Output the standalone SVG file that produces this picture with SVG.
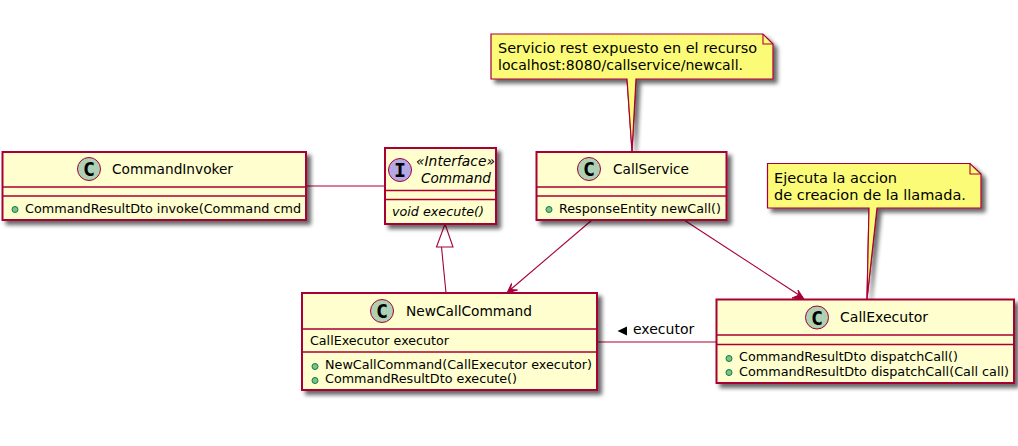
<svg xmlns="http://www.w3.org/2000/svg" width="1018" height="446" viewBox="0 0 1018 446">
<style>
text{font-family:"DejaVu Sans",sans-serif;fill:#000}
.name{font-size:14.500px}
.mem{font-size:12.500px}
.note{font-size:14.500px}
.box{fill:#FEFECE;stroke:#A80036;stroke-width:2;filter:url(#sh)}
.nt{fill:#FBFB77;stroke:#A80036;stroke-width:1.2;filter:url(#sh)}
.div{stroke:#A80036;stroke-width:1.5;fill:none}
.c{stroke:#A80036;stroke-width:1;fill:#ADD1B2}
.i{stroke:#A80036;stroke-width:1;fill:#B4A7E5}
.g{font-family:"DejaVu Sans Mono",monospace;font-size:20px;font-weight:bold;text-anchor:middle}
.dot{fill:#84BE84;stroke:#038048;stroke-width:1}
.ln{stroke:#A80036;stroke-width:1.1;fill:none}
.hd{stroke:#A80036;stroke-width:1;fill:#A80036}
.it{font-style:italic}
</style>
<defs>
<filter id="sh" x="-10%" y="-10%" width="125%" height="130%">
<feGaussianBlur in="SourceAlpha" stdDeviation="2"/>
<feOffset dx="4" dy="4"/>
<feComponentTransfer><feFuncA type="linear" slope="0.6"/></feComponentTransfer>
<feMerge><feMergeNode/><feMergeNode in="SourceGraphic"/></feMerge>
</filter>
</defs>
<g id="connectors">
<path class="ln" d="M306 186H385"/>
<path class="ln" d="M446 293L441.500 247"/>
<path class="ln" d="M445 224L436.500 247H453Z" style="fill:#fff"/>
<path class="ln" d="M592 220L510 290"/>
<path class="hd" d="M507 293L517.500 290L510.500 289.500L511.500 283.500Z"/>
<path class="ln" d="M684 220L799 295"/>
<path class="hd" d="M804 299L792 298L799 295L798 290Z"/>
<path class="ln" d="M597 342H716"/>
<path class="ln" d="M632 151L627 79M632 151L636 79"/>
<path class="ln" d="M867 299L869 208M867 299L877 208"/>
<polygon points="617.500,331 627,326.500 627,335.500" fill="#000"/>
<text x="633" y="334" style="font-size:14px">executor</text>
</g>
<g id="note1">
<path class="nt" d="M491 34H763L773 44V79H636L632 151L627 79H491Z"/>
<path class="ln" d="M763 34V44H773"/>
<text class="note" x="498" y="53" textLength="259" lengthAdjust="spacingAndGlyphs">Servicio rest expuesto en el recurso</text>
<text class="note" x="498" y="70" textLength="245" lengthAdjust="spacingAndGlyphs">localhost:8080/callservice/newcall.</text>
</g>
<g id="note2">
<path class="nt" d="M767.500 163.500H970L981 174V208H877L867 299L869 208H767.500Z"/>
<path class="ln" d="M970 163.500V174H981"/>
<text class="note" x="774" y="183" textLength="123" lengthAdjust="spacingAndGlyphs">Ejecuta la accion</text>
<text class="note" x="774" y="200" textLength="192" lengthAdjust="spacingAndGlyphs">de creacion de la llamada.</text>
</g>
<g id="CommandInvoker">
<rect class="box" x="2.500" y="152" width="303.500" height="68"/>
<path class="div" d="M3 187H306M3 196H306"/>
<circle class="c" cx="89" cy="169" r="11.500"/>
<text class="g" x="89" y="176">C</text>
<text class="name" x="112" y="174" textLength="121" lengthAdjust="spacingAndGlyphs">CommandInvoker</text>
<circle class="dot" cx="15" cy="209.500" r="3"/>
<text class="mem" x="25" y="213" textLength="276" lengthAdjust="spacingAndGlyphs">CommandResultDto invoke(Command cmd</text>
</g>
<g id="Command">
<rect class="box" x="385" y="148" width="111" height="76"/>
<path class="div" d="M386 190.500H496M386 199.500H496"/>
<circle class="i" cx="400" cy="170" r="11.500"/>
<text class="g" x="400" y="177">I</text>
<text class="name it" x="416" y="166" textLength="79" lengthAdjust="spacingAndGlyphs">«Interface»</text>
<text class="name it" x="421" y="183" textLength="70" lengthAdjust="spacingAndGlyphs">Command</text>
<text class="mem it" x="392" y="216" textLength="92" lengthAdjust="spacingAndGlyphs">void execute()</text>
</g>
<g id="CallService">
<rect class="box" x="536.500" y="152" width="190" height="68"/>
<path class="div" d="M537 187H727M537 196H727"/>
<circle class="c" cx="589" cy="169" r="11.500"/>
<text class="g" x="589" y="176">C</text>
<text class="name" x="613" y="174" textLength="76" lengthAdjust="spacingAndGlyphs">CallService</text>
<circle class="dot" cx="549" cy="209.500" r="3"/>
<text class="mem" x="559" y="213" textLength="162" lengthAdjust="spacingAndGlyphs">ResponseEntity newCall()</text>
</g>
<g id="NewCallCommand">
<rect class="box" x="302" y="293" width="295" height="97"/>
<path class="div" d="M303 329H597M303 352H597"/>
<circle class="c" cx="382" cy="311" r="11.500"/>
<text class="g" x="382" y="318">C</text>
<text class="name" x="406" y="316" textLength="126" lengthAdjust="spacingAndGlyphs">NewCallCommand</text>
<text class="mem" x="310" y="345" textLength="139" lengthAdjust="spacingAndGlyphs">CallExecutor executor</text>
<circle class="dot" cx="315" cy="366.500" r="3"/>
<text class="mem" x="325" y="369" textLength="267" lengthAdjust="spacingAndGlyphs">NewCallCommand(CallExecutor executor)</text>
<circle class="dot" cx="315" cy="380.500" r="3"/>
<text class="mem" x="325" y="383" textLength="192" lengthAdjust="spacingAndGlyphs">CommandResultDto execute()</text>
</g>
<g id="CallExecutor">
<rect class="box" x="716.500" y="299.500" width="297.500" height="83.500"/>
<path class="div" d="M717 335H1014M717 344.500H1014"/>
<circle class="c" cx="817" cy="317.500" r="11.500"/>
<text class="g" x="817" y="324.500">C</text>
<text class="name" x="840" y="322" textLength="88" lengthAdjust="spacingAndGlyphs">CallExecutor</text>
<circle class="dot" cx="729" cy="358.500" r="3"/>
<text class="mem" x="739" y="361" textLength="219" lengthAdjust="spacingAndGlyphs">CommandResultDto dispatchCall()</text>
<circle class="dot" cx="729" cy="372.500" r="3"/>
<text class="mem" x="739" y="376" textLength="270" lengthAdjust="spacingAndGlyphs">CommandResultDto dispatchCall(Call call)</text>
</g>
</svg>
